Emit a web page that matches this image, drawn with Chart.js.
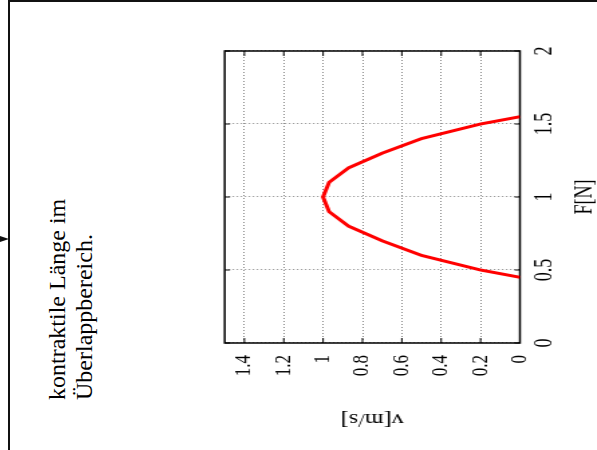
<!DOCTYPE html>
<html>
<head>
<meta charset="utf-8">
<script src="https://cdn.jsdelivr.net/npm/chart.js@4"></script>
<style>
  html, body { margin: 0; padding: 0; background: #fff; }
  body { width: 597px; height: 450px; position: relative; overflow: hidden; }
  #frameTop { position: absolute; left: 8px; top: 0; width: 589px; height: 2px; background: #111; }
  #frameLeft { position: absolute; left: 8px; top: 0; width: 2px; height: 450px; background: #111; }
  #arrow { position: absolute; left: 0; top: 236px; width: 0; height: 0;
           border-top: 3px solid transparent; border-bottom: 3px solid transparent; border-left: 9px solid #111; }
  #note { position: absolute; left: 44px; top: 400px; transform-origin: 0 0; transform: rotate(-90deg);
          font: 24px "Liberation Serif", serif; line-height: 27px; white-space: nowrap; color: #000; }
  #plotBox { position: absolute; left: 195px; top: 30px; width: 402px; height: 420px; overflow: hidden; }
  /* the scanned figure is turned and a bit stretched across the page */
  #plotBox canvas { position: absolute; left: 0; top: 0; transform-origin: 0 0;
                    transform: translateY(420px) rotate(-90deg) scale(1, 1.34); }
</style>
</head>
<body>
<div id="frameTop"></div>
<div id="frameLeft"></div>
<div id="arrow"></div>
<div id="note">kontraktile Länge im<br>Überlappbereich.</div>
<div id="plotBox"><canvas id="fv" width="420" height="300" style="width:420px;height:300px"></canvas></div>

<script>
// Kraft-Geschwindigkeit (chart is drawn upright, then the canvas is turned like the page)
const forceN   = [0.45, 0.5, 0.6, 0.7, 0.8, 0.9, 1.0, 1.1, 1.2, 1.3, 1.4, 1.5, 1.55];
const velocity = [0,    0.2, 0.5, 0.7, 0.87, 0.97, 1.0, 0.97, 0.87, 0.7, 0.5, 0.2, 0];
const forceTicks    = [0, 0.5, 1, 1.5, 2];
const velocityTicks = [0, 0.2, 0.4, 0.6, 0.8, 1, 1.2, 1.4];

const serif = "'Liberation Serif', 'Times New Roman', serif";

// gnuplot style box all around plus small inner tick marks
const boxPlugin = {
  id: 'box',
  beforeDatasetsDraw(chart) {
    const ctx = chart.ctx;
    const a = chart.chartArea;
    const xs = chart.scales.x, ys = chart.scales.y;
    ctx.save();
    ctx.strokeStyle = '#000';
    ctx.lineWidth = 1;
    ctx.beginPath();
    xs.ticks.forEach(t => {
      const px = xs.getPixelForValue(t.value);
      ctx.moveTo(px, a.bottom); ctx.lineTo(px, a.bottom - 4);
      ctx.moveTo(px, a.top); ctx.lineTo(px, a.top + 4);
    });
    ys.ticks.forEach(t => {
      const py = ys.getPixelForValue(t.value);
      ctx.moveTo(a.left, py); ctx.lineTo(a.left + 5, py);
      ctx.moveTo(a.right, py); ctx.lineTo(a.right - 5, py);
    });
    ctx.stroke();
    ctx.lineWidth = 1.5;
    ctx.strokeRect(a.left, a.top, a.right - a.left, a.bottom - a.top);
    ctx.restore();
  }
};

const points = forceN.map((f, i) => ({ x: f, y: velocity[i] }));

new Chart(document.getElementById('fv'), {
  type: 'scatter',
  data: {
    datasets: [{
      data: points,
      showLine: true,
      borderColor: '#ff0000',
      borderWidth: 3,
      pointRadius: 0,
      tension: 0,
      fill: false
    }]
  },
  options: {
    responsive: false,
    animation: false,
    devicePixelRatio: 1,
    layout: { padding: { left: 0, right: 21, top: 21, bottom: 0 } },
    plugins: { legend: { display: false }, tooltip: { enabled: false } },
    scales: {
      x: {
        type: 'linear',
        min: 0, max: 2,
        afterBuildTicks: (s) => { s.ticks = forceTicks.map(v => ({ value: v })); },
        afterFit: (s) => { s.height = 57.5; },
        grid: { color: '#888', lineWidth: 1, drawTicks: false },
        border: { display: false, dash: [1, 2] },
        ticks: { color: '#000', padding: 8, font: { family: serif, size: 18 },
                 callback: (v) => String(v) },
        title: { display: true, text: 'F[N]', color: '#000', padding: { top: 0, bottom: 0 },
                 font: { family: serif, size: 18, lineHeight: 1 } }
      },
      y: {
        type: 'linear',
        min: 0, max: 1.5,
        afterBuildTicks: (s) => { s.ticks = velocityTicks.map(v => ({ value: v })); },
        afterFit: (s) => { s.width = 107; },
        grid: { color: '#888', lineWidth: 1, drawTicks: false },
        border: { display: false, dash: [1, 2] },
        ticks: { color: '#000', padding: 12, crossAlign: 'near', font: { family: serif, size: 17 },
                 callback: (v) => String(v) },
        title: { display: true, text: 'v[m/s]', color: '#000', padding: { top: 20, bottom: 0 },
                 font: { family: serif, size: 18 } }
      }
    }
  },
  plugins: [boxPlugin]
});
</script>
</body>
</html>
